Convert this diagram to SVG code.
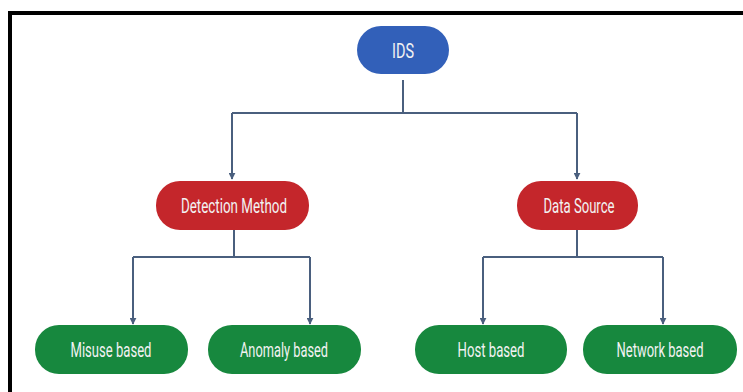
<svg xmlns="http://www.w3.org/2000/svg" width="743" height="392" viewBox="0 0 743 392">
<defs>
<marker id="arr" viewBox="0 0 10 10" refX="9" refY="5" markerWidth="3.5" markerHeight="3.5" orient="auto" markerUnits="strokeWidth">
<path d="M0,0 L10,5 L0,10 z" fill="#4a5f7e"/>
</marker>
<style>
.blue{fill:#3260b9}
.red{fill:#c4262b}
.green{fill:#17883e}
.t{font-family:"Roboto","Liberation Sans",sans-serif;font-size:20px;fill:#f2f2f2;text-anchor:middle}
.c{fill:none;stroke:#4a5f7e;stroke-width:2}
</style>
</defs>
<rect width="743" height="392" fill="#ffffff"/>
<path d="M10,392 L10,13 L743,13" fill="none" stroke="#000" stroke-width="4"/>
<g id="connectors">
<path class="c" d="M403,80 L403,113"/>
<path class="c" d="M232,113 L577,113"/>
<path class="c" d="M232,113 L232,179" marker-end="url(#arr)"/>
<path class="c" d="M577,113 L577,179" marker-end="url(#arr)"/>
<path class="c" d="M234,230 L234,257"/>
<path class="c" d="M133,257 L310,257"/>
<path class="c" d="M133,257 L133,324" marker-end="url(#arr)"/>
<path class="c" d="M310,257 L310,324" marker-end="url(#arr)"/>
<path class="c" d="M577,230 L577,257"/>
<path class="c" d="M483,257 L663,257"/>
<path class="c" d="M483,257 L483,324" marker-end="url(#arr)"/>
<path class="c" d="M663,257 L663,324" marker-end="url(#arr)"/>
</g>
<g id="ids">
<rect class="blue" x="357" y="26" width="92" height="48" rx="24"/>
<text class="t" x="403" y="58" textLength="22" lengthAdjust="spacingAndGlyphs">IDS</text>
</g>
<g id="detection-method">
<rect class="red" x="156" y="181" width="153" height="49" rx="24"/>
<text class="t" x="234" y="213" textLength="106" lengthAdjust="spacingAndGlyphs">Detection Method</text>
</g>
<g id="data-source">
<rect class="red" x="517" y="181" width="121" height="49" rx="24"/>
<text class="t" x="579" y="213" textLength="71" lengthAdjust="spacingAndGlyphs">Data Source</text>
</g>
<g id="misuse-based">
<rect class="green" x="35" y="325" width="153" height="49" rx="24"/>
<text class="t" x="111" y="357" textLength="81" lengthAdjust="spacingAndGlyphs">Misuse based</text>
</g>
<g id="anomaly-based">
<rect class="green" x="208" y="325" width="153" height="49" rx="24"/>
<text class="t" x="284" y="357" textLength="88" lengthAdjust="spacingAndGlyphs">Anomaly based</text>
</g>
<g id="host-based">
<rect class="green" x="415" y="325" width="152" height="49" rx="24"/>
<text class="t" x="491" y="357" textLength="67" lengthAdjust="spacingAndGlyphs">Host based</text>
</g>
<g id="network-based">
<rect class="green" x="583" y="325" width="154" height="49" rx="24"/>
<text class="t" x="660" y="357" textLength="87" lengthAdjust="spacingAndGlyphs">Network based</text>
</g>
</svg>
